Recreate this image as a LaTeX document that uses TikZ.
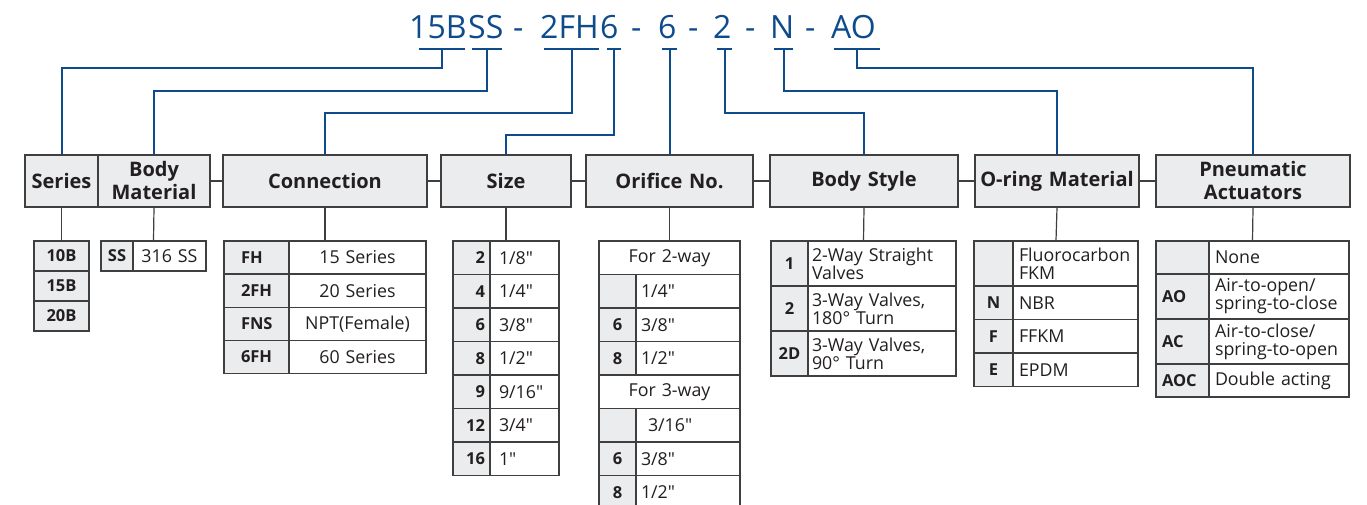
\documentclass[tikz,border=0pt]{standalone}
\usepackage{fontspec}
\setmainfont{Open Sans}[Ligatures=TeXOff]
\usetikzlibrary{calc}
\definecolor{codeblue}{HTML}{0D4B8C}
\definecolor{ink}{HTML}{231F20}
\definecolor{rule}{HTML}{3F3F3F}
\definecolor{cellgrey}{HTML}{EBECED}
\newcommand\cellbox[8]{%
  \pgfmathsetmacro\cbw{#4-#2}%
  \pgfmathsetmacro\cbh{#5-#3}%
  \pgfmathsetmacro\cbx{(#2+#4)/2}%
  \pgfmathsetmacro\cby{(#3+#5)/2}%
  \pgfmathsetmacro\cbt{#4-#2-2*#6}%
  \node[cellbase,minimum width=\cbw pt,minimum height=\cbh pt,text width=\cbt pt,inner xsep=#6 pt,#7] (#1) at (\cbx,\cby) {#8};}
\begin{document}
\begin{tikzpicture}[x=1pt,y=-1pt,
  cellbase/.style={draw=rule,line width=1.2pt,inner ysep=0pt,text=ink,
    execute at begin node={\hyphenpenalty=10000\exhyphenpenalty=10000}},
  code/.style={fill=cellgrey,font=\fontsize{16.5}{18}\selectfont\bfseries},
  val/.style={fill=white,font=\fontsize{17.8}{18}\selectfont},
  head/.style={fill=cellgrey,line width=1.4pt,font=\fontsize{20}{23}\selectfont\bfseries,align=center},
  tframe/.style={fill=none},
  greyline/.style={draw=rule,line width=1.2pt},
  blueline/.style={draw=codeblue,line width=2pt},
  codetxt/.style={text=codeblue,font=\fontsize{32}{32}\selectfont,inner sep=0pt,anchor=base west}]
\fill[white] (0,0) rectangle (1367,505);
\useasboundingbox (0,0) rectangle (1367,505);

% ---- top code ----
\node[codetxt] (cSer) at (409,38.5) {15B};
\node[codetxt] (cMat) at (468,38.5) {SS};
\node[codetxt] (d1) at (513,38.5) {-};
\node[codetxt] (cConn) at (540,38.5) {2FH};
\node[codetxt] (cSize) at (600,38.5) {6};
\node[codetxt] (d2) at (631,38.5) {-};
\node[codetxt] (cOrif) at (658,38.5) {6};
\node[codetxt] (d3) at (688,38.5) {-};
\node[codetxt] (cBody) at (713,38.5) {2};
\node[codetxt] (d4) at (745,38.5) {-};
\node[codetxt] (cOring) at (770,38.5) {N};
\node[codetxt] (d5) at (805,38.5) {-};
\node[codetxt] (cAct) at (831,38.5) {AO};

\coordinate (bSerL) at (419,49);   \coordinate (bSerR) at (465,49);
\coordinate (bMatL) at (472,49);   \coordinate (bMatR) at (502,49);
\coordinate (bConnL) at (544,49);  \coordinate (bConnR) at (599,49);
\coordinate (bSizeL) at (607,49);  \coordinate (bSizeR) at (621,49);
\coordinate (bOrifL) at (662,49);  \coordinate (bOrifR) at (677,49);
\coordinate (bBodyL) at (717,49);  \coordinate (bBodyR) at (732,49);
\coordinate (bOringL) at (774,49); \coordinate (bOringR) at (793,49);
\coordinate (bActL) at (834,49);   \coordinate (bActR) at (880,49);

% ---- headers ----
\cellbox{hSer}{25}{155}{98}{207}{1}{head}{Series}
\cellbox{hMat}{98}{155}{210}{207}{1}{head}{Body\\Material}
\cellbox{hConn}{223}{155}{427}{207}{1}{head}{Connection}
\cellbox{hSize}{441}{155}{571}{207}{1}{head}{Size}
\cellbox{hOrif}{586}{155}{753}{207}{1}{head}{Orifice~No.}
\cellbox{hBody}{770}{155}{958}{207}{1}{head}{Body~Style}
\cellbox{hOring}{975}{155}{1139}{207}{1}{head}{O-ring~Material}
\cellbox{hAct}{1156}{155}{1350}{207}{1}{head}{Pneumatic\\Actuators}

\draw[greyline] (hMat.east) -- (hConn.west);
\draw[greyline] (hConn.east) -- (hSize.west);
\draw[greyline] (hSize.east) -- (hOrif.west);
\draw[greyline] (hOrif.east) -- (hBody.west);
\draw[greyline] (hBody.east) -- (hOring.west);
\draw[greyline] (hOring.east) -- (hAct.west);

% ---- blue connectors ----
\foreach \n in {Ser,Mat,Conn,Size,Orif,Body,Oring,Act}{
  \draw[blueline] (b\n L) -- (b\n R);}
\draw[blueline] ($(bSerL)!.5!(bSerR)$) -- ++(0,19) -| (hSer.north);
\draw[blueline] ($(bMatL)!.5!(bMatR)$) -- ++(0,42) -| (hMat.north);
\draw[blueline] ($(bConnL)!.5!(bConnR)$) -- ++(0,64) -| (hConn.north);
\draw[blueline] ($(bSizeL)!.5!(bSizeR)$) -- ++(0,86) -| (hSize.north);
\draw[blueline] ($(bOrifL)!.5!(bOrifR)$) -- (hOrif.north);
\draw[blueline] ($(bBodyL)!.5!(bBodyR)$) -- ++(0,64) -| (hBody.north);
\draw[blueline] ($(bOringL)!.5!(bOringR)$) -- ++(0,42) -| (hOring.north);
\draw[blueline] ($(bActL)!.5!(bActR)$) -- ++(0,19) -| (hAct.north);

% ---- Series table ----
\cellbox{s1}{34}{241}{89}{271}{2}{code,align=center}{10B}
\cellbox{s2}{34}{271}{89}{301}{2}{code,align=center}{15B}
\cellbox{s3}{34}{301}{89}{331}{2}{code,align=center}{20B}
\cellbox{tSer}{34}{241}{89}{331}{0}{tframe}{}

% ---- Body material table ----
\cellbox{m1c}{101}{241}{133}{271}{2}{code,align=center}{SS}
\cellbox{m1v}{133}{241}{206}{271}{2}{val,align=center}{316 SS}
\cellbox{tMat}{101}{241}{206}{271}{0}{tframe}{}

% ---- Connection table ----
\cellbox{n1c}{224}{241}{289}{274}{17}{code,align=left}{FH}
\cellbox{n1v}{289}{241}{426}{274}{4}{val,align=center}{15 Series}
\cellbox{n2c}{224}{274}{289}{307.5}{17}{code,align=left}{2FH}
\cellbox{n2v}{289}{274}{426}{307.5}{4}{val,align=center}{20 Series}
\cellbox{n3c}{224}{307.5}{289}{340.5}{17}{code,align=left}{FNS}
\cellbox{n3v}{289}{307.5}{426}{340.5}{4}{val,align=center}{NPT(Female)}
\cellbox{n4c}{224}{340.5}{289}{373.5}{17}{code,align=left}{6FH}
\cellbox{n4v}{289}{340.5}{426}{373.5}{4}{val,align=center}{60 Series}
\cellbox{tConn}{224}{241}{426}{373.5}{0}{tframe}{}

% ---- Size table ----
\cellbox{z1c}{453}{241}{490}{274.5}{5}{code,align=right}{2}
\cellbox{z1v}{490}{241}{559}{274.5}{9}{val,align=left}{1/8"}
\cellbox{z2c}{453}{274.5}{490}{308}{5}{code,align=right}{4}
\cellbox{z2v}{490}{274.5}{559}{308}{9}{val,align=left}{1/4"}
\cellbox{z3c}{453}{308}{490}{341.5}{5}{code,align=right}{6}
\cellbox{z3v}{490}{308}{559}{341.5}{9}{val,align=left}{3/8"}
\cellbox{z4c}{453}{341.5}{490}{375}{5}{code,align=right}{8}
\cellbox{z4v}{490}{341.5}{559}{375}{9}{val,align=left}{1/2"}
\cellbox{z5c}{453}{375}{490}{408.5}{5}{code,align=right}{9}
\cellbox{z5v}{490}{375}{559}{408.5}{9}{val,align=left}{9/16"}
\cellbox{z6c}{453}{408.5}{490}{442}{5}{code,align=right}{12}
\cellbox{z6v}{490}{408.5}{559}{442}{9}{val,align=left}{3/4"}
\cellbox{z7c}{453}{442}{490}{475.5}{5}{code,align=right}{16}
\cellbox{z7v}{490}{442}{559}{475.5}{9}{val,align=left}{1"}
\cellbox{tSize}{453}{241}{559}{475.5}{0}{tframe}{}

% ---- Orifice table ----
\cellbox{o1}{599}{241}{740}{274.5}{4}{val,align=center}{For 2-way}
\cellbox{o2c}{599}{274.5}{636}{308}{2}{code,align=center}{}
\cellbox{o2v}{636}{274.5}{740}{308}{5}{val,align=left}{1/4"}
\cellbox{o3c}{599}{308}{636}{341.5}{2}{code,align=center}{6}
\cellbox{o3v}{636}{308}{740}{341.5}{5}{val,align=left}{3/8"}
\cellbox{o4c}{599}{341.5}{636}{375}{2}{code,align=center}{8}
\cellbox{o4v}{636}{341.5}{740}{375}{5}{val,align=left}{1/2"}
\cellbox{o5}{599}{375}{740}{408.5}{4}{val,align=center}{For 3-way}
\cellbox{o6c}{599}{408.5}{636}{442}{2}{code,align=center}{}
\cellbox{o6v}{636}{408.5}{740}{442}{12}{val,align=left}{3/16"}
\cellbox{o7c}{599}{442}{636}{475.5}{2}{code,align=center}{6}
\cellbox{o7v}{636}{442}{740}{475.5}{5}{val,align=left}{3/8"}
\cellbox{o8c}{599}{475.5}{636}{509}{2}{code,align=center}{8}
\cellbox{o8v}{636}{475.5}{740}{509}{5}{val,align=left}{1/2"}
\cellbox{tOrif}{599}{241}{740}{509}{0}{tframe}{}

% ---- Body style table ----
\cellbox{y1c}{771}{241}{808}{286}{2}{code,align=center}{1}
\cellbox{y1v}{808}{241}{956}{286}{4}{val,align=left}{2-Way Straight\\Valves}
\cellbox{y2c}{771}{286}{808}{331}{2}{code,align=center}{2}
\cellbox{y2v}{808}{286}{956}{331}{4}{val,align=left}{3-Way Valves,\\180° Turn}
\cellbox{y3c}{771}{331}{808}{376}{2}{code,align=center}{2D}
\cellbox{y3v}{808}{331}{956}{376}{4}{val,align=left}{3-Way Valves,\\90° Turn}
\cellbox{tBody}{771}{241}{956}{376}{0}{tframe}{}

% ---- O-ring table ----
\cellbox{r1c}{974}{241}{1013}{286}{2}{code,align=center}{}
\cellbox{r1v}{1013}{241}{1138}{286}{6}{val,align=left}{Fluorocarbon\\FKM}
\cellbox{r2c}{974}{286}{1013}{319.5}{2}{code,align=center}{N}
\cellbox{r2v}{1013}{286}{1138}{319.5}{6}{val,align=left}{NBR}
\cellbox{r3c}{974}{319.5}{1013}{353}{2}{code,align=center}{F}
\cellbox{r3v}{1013}{319.5}{1138}{353}{6}{val,align=left}{FFKM}
\cellbox{r4c}{974}{353}{1013}{386.5}{2}{code,align=center}{E}
\cellbox{r4v}{1013}{353}{1138}{386.5}{6}{val,align=left}{EPDM}
\cellbox{tOring}{974}{241}{1138}{386.5}{0}{tframe}{}

% ---- Pneumatic table ----
\cellbox{a1c}{1156}{241}{1209}{274}{6}{code,align=left}{}
\cellbox{a1v}{1209}{241}{1349}{274}{6}{val,align=left}{None}
\cellbox{a2c}{1156}{274}{1209}{319}{6}{code,align=left}{AO}
\cellbox{a2v}{1209}{274}{1349}{319}{6}{val,align=left}{Air-to-open/\\spring-to-close}
\cellbox{a3c}{1156}{319}{1209}{364}{6}{code,align=left}{AC}
\cellbox{a3v}{1209}{319}{1349}{364}{6}{val,align=left}{Air-to-close/\\spring-to-open}
\cellbox{a4c}{1156}{364}{1209}{397}{6}{code,align=left}{AOC}
\cellbox{a4v}{1209}{364}{1349}{397}{6}{val,align=left}{Double acting}
\cellbox{tAct}{1156}{241}{1349}{397}{0}{tframe}{}

% ---- header to table connectors ----
\draw[greyline] (hSer.south) -- (tSer.north);
\draw[greyline] (hMat.south) -- (tMat.north);
\draw[greyline] (hConn.south) -- (tConn.north);
\draw[greyline] (hSize.south) -- (tSize.north);
\draw[greyline] (hOrif.south) -- (tOrif.north);
\draw[greyline] (hBody.south) -- (tBody.north);
\draw[greyline] (hOring.south) -- (tOring.north);
\draw[greyline] (hAct.south) -- (tAct.north);
\end{tikzpicture}
\end{document}
